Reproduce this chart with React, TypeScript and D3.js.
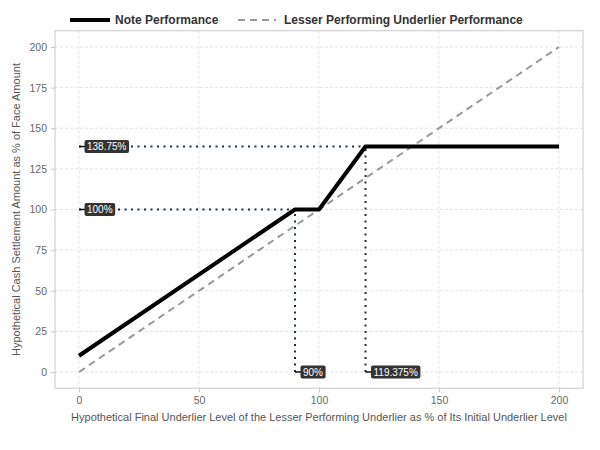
import React, { useEffect, useRef } from "react";
import * as d3 from "d3";

const noteX = [0, 90, 100, 119.375, 200];
const noteY = [10, 100, 100, 138.75, 138.75];
const underX = [0, 200];
const underY = [0, 200];
const xTicks = [0, 50, 100, 150, 200];
const yTicks = [0, 25, 50, 75, 100, 125, 150, 175, 200];
const hRefY = [138.75, 100];
const hRefXEnd = [119.375, 90];
const hRefLabels = ["138.75%", "100%"];
const vRefX = [90, 119.375];
const vRefYEnd = [100, 138.75];
const vRefLabels = ["90%", "119.375%"];
const legendLabels = ["Note Performance", "Lesser Performing Underlier Performance"];
const xTitle = "Hypothetical Final Underlier Level of the Lesser Performing Underlier as % of Its Initial Underlier Level";
const yTitle = "Hypothetical Cash Settlement Amount as % of Face Amount";

const W = 600, H = 450;
const FONT = "'Liberation Sans', Arial, Helvetica, sans-serif";

export default function App() {
  const ref = useRef<SVGSVGElement>(null);
  useEffect(() => {
    const svg = d3.select(ref.current);
    svg.selectAll("*").remove();
    const left = 55, right = 583, top = 30.75, bottom = 388.25;
    const x = d3.scaleLinear().domain([-10, 210]).range([left, right]);
    const y = d3.scaleLinear().domain([-10, 210]).range([bottom, top]);

    const g = svg.append("g");
    // grid
    g.selectAll(".gx").data(xTicks).enter().append("line")
      .attr("x1", d => x(d)).attr("x2", d => x(d)).attr("y1", top).attr("y2", bottom)
      .attr("stroke", "#d8d8d8").attr("stroke-width", 0.7).attr("stroke-dasharray", "3,2");
    g.selectAll(".gy").data(yTicks).enter().append("line")
      .attr("y1", d => y(d)).attr("y2", d => y(d)).attr("x1", left).attr("x2", right)
      .attr("stroke", "#d8d8d8").attr("stroke-width", 0.7).attr("stroke-dasharray", "3,2");
    // border
    g.append("rect").attr("x", left).attr("y", top).attr("width", right - left).attr("height", bottom - top)
      .attr("fill", "none").attr("stroke", "#c8c8c8").attr("stroke-width", 1);
    // axes
    const xa = d3.axisBottom(x).tickValues(xTicks).tickSize(4).tickPadding(4);
    const ya = d3.axisLeft(y).tickValues(yTicks).tickSize(4).tickPadding(4);
    const gx = g.append("g").attr("transform", `translate(0,${bottom})`).call(xa);
    const gy = g.append("g").attr("transform", `translate(${left},0)`).call(ya);
    [gx, gy].forEach(a => {
      a.select(".domain").remove();
      a.selectAll("line").attr("stroke", "#c8c8c8");
      a.selectAll("text").attr("fill", "#666").style("font-size", "10.5px").style("font-family", FONT);
    });

    // underlier dashed
    const line = d3.line<[number, number]>().x(d => x(d[0])).y(d => y(d[1]));
    g.append("path").datum(underX.map((v, i) => [v, underY[i]] as [number, number]))
      .attr("d", line).attr("fill", "none").attr("stroke", "#999").attr("stroke-width", 2)
      .attr("stroke-dasharray", "7,5");

    // reference dotted lines
    const dotCol = "#1b2f4a";
    hRefY.forEach((v, i) => {
      g.append("line").attr("x1", x(0)).attr("x2", x(hRefXEnd[i])).attr("y1", y(v)).attr("y2", y(v))
        .attr("stroke", dotCol).attr("stroke-width", 2).attr("stroke-dasharray", "2,4.5");
    });
    vRefX.forEach((v, i) => {
      g.append("line").attr("x1", x(v)).attr("x2", x(v)).attr("y1", y(0)).attr("y2", y(vRefYEnd[i]))
        .attr("stroke", dotCol).attr("stroke-width", 2).attr("stroke-dasharray", "2,4.5");
    });

    // note line
    g.append("path").datum(noteX.map((v, i) => [v, noteY[i]] as [number, number]))
      .attr("d", line).attr("fill", "none").attr("stroke", "#000").attr("stroke-width", 4)
      .attr("stroke-linejoin", "round");

    // labels
    const addLabel = (px: number, py: number, text: string) => {
      g.append("line").attr("x1", px).attr("x2", px + 6).attr("y1", py).attr("y2", py)
        .attr("stroke", "#111").attr("stroke-width", 1.5);
      const lg = g.append("g");
      const rect = lg.append("rect");
      const t = lg.append("text").attr("x", px + 8).attr("y", py).attr("dy", "0.36em")
        .attr("fill", "#fff").style("font-size", "10px").style("font-family", FONT).text(text);
      const bb = (t.node() as SVGTextElement).getBBox();
      rect.attr("x", px + 5.5).attr("y", py - 6.5).attr("width", bb.width + 5).attr("height", 13)
        .attr("rx", 2).attr("fill", "#333");
    };
    hRefY.forEach((v, i) => addLabel(x(0), y(v), hRefLabels[i]));
    vRefX.forEach((v, i) => addLabel(x(v), y(0), vRefLabels[i]));

    // titles
    svg.append("text").attr("x", (left + right) / 2).attr("y", 421).attr("text-anchor", "middle")
      .attr("fill", "#555").style("font-size", "11px").style("font-family", FONT).text(xTitle);
    svg.append("text").attr("transform", `translate(20,${(top + bottom) / 2}) rotate(-90)`)
      .attr("text-anchor", "middle").attr("fill", "#555").style("font-size", "11px")
      .style("font-family", FONT).text(yTitle);

    // legend
    const leg = svg.append("g");
    leg.append("line").attr("x1", 70).attr("x2", 110).attr("y1", 20).attr("y2", 20)
      .attr("stroke", "#000").attr("stroke-width", 4);
    leg.append("text").attr("x", 115).attr("y", 20).attr("dy", "0.36em").attr("fill", "#333")
      .style("font-size", "12px").style("font-weight", "bold").style("font-family", FONT).text(legendLabels[0]);
    leg.append("line").attr("x1", 238).attr("x2", 276).attr("y1", 20).attr("y2", 20)
      .attr("stroke", "#999").attr("stroke-width", 2).attr("stroke-dasharray", "7,5");
    leg.append("text").attr("x", 284).attr("y", 20).attr("dy", "0.36em").attr("fill", "#333")
      .style("font-size", "12px").style("font-weight", "bold").style("font-family", FONT).text(legendLabels[1]);
  }, []);
  return (
    <svg ref={ref} width={W} height={H}
      style={{ position: "absolute", left: 0, top: 0, background: "#fff" }} />
  );
}
